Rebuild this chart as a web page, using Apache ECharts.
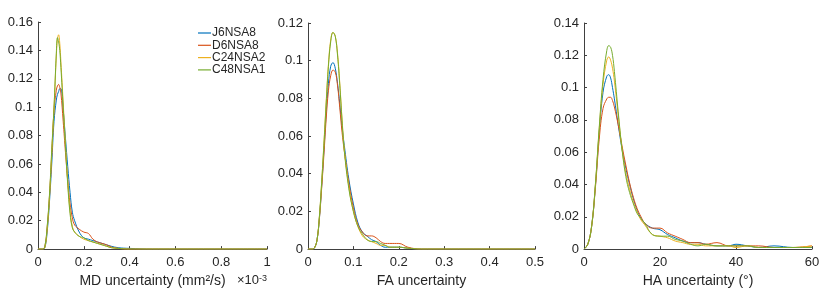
<!DOCTYPE html>
<html>
<head>
<meta charset="utf-8">
<script src="https://cdn.jsdelivr.net/npm/echarts@6/dist/echarts.min.js"></script>
<style>
  html, body { margin: 0; padding: 0; background: #fff; }
  #chart { width: 840px; height: 293px; }
</style>
</head>
<body>
<div id="chart"></div>
<script>
const seriesNames = ['J6NSA8', 'D6NSA8', 'C24NSA2', 'C48NSA1']
const colors = ['#0072BD', '#D95319', '#EDB120', '#77AC30']

// MD uncertainty (x10^-3 mm2/s)
const mdX = [0, 0.02, 0.03, 0.04, 0.05, 0.06, 0.07, 0.08, 0.085, 0.09, 0.095, 0.1, 0.11, 0.12, 0.13, 0.14, 0.15, 0.16, 0.18, 0.2, 0.22, 0.24, 0.26, 0.28, 0.3, 0.32, 0.35, 0.4, 0.5, 0.6, 0.8, 1.0]
const mdJ6 = [0, 0, 0.001, 0.012, 0.033, 0.06, 0.09, 0.105, 0.109, 0.111, 0.113, 0.113, 0.098, 0.078, 0.058, 0.04, 0.026, 0.02, 0.012, 0.008, 0.007, 0.006, 0.005, 0.004, 0.003, 0.002, 0.001, 0.0005, 0, 0, 0, 0]
const mdD6 = [0, 0, 0.002, 0.015, 0.037, 0.066, 0.098, 0.112, 0.115, 0.116, 0.114, 0.11, 0.09, 0.068, 0.048, 0.032, 0.022, 0.017, 0.014, 0.012, 0.011, 0.007, 0.005, 0.004, 0.003, 0.0015, 0.0005, 0, 0, 0, 0, 0]
const mdC24 = [0, 0, 0.001, 0.014, 0.036, 0.068, 0.1, 0.136, 0.148, 0.151, 0.145, 0.132, 0.103, 0.074, 0.047, 0.027, 0.016, 0.012, 0.009, 0.007, 0.006, 0.005, 0.004, 0.003, 0.002, 0.001, 0.0005, 0, 0, 0, 0, 0]
const mdC48 = [0, 0, 0.002, 0.016, 0.038, 0.07, 0.1, 0.138, 0.149, 0.146, 0.14, 0.128, 0.1, 0.072, 0.045, 0.025, 0.015, 0.012, 0.009, 0.008, 0.006, 0.005, 0.004, 0.003, 0.002, 0.001, 0.0005, 0, 0, 0, 0, 0]

// FA uncertainty
const faX = [0, 0.01, 0.015, 0.02, 0.025, 0.03, 0.035, 0.04, 0.045, 0.05, 0.055, 0.06, 0.065, 0.07, 0.075, 0.08, 0.09, 0.1, 0.11, 0.12, 0.13, 0.14, 0.15, 0.16, 0.17, 0.18, 0.2, 0.22, 0.25, 0.3, 0.5]
const faJ6 = [0, 0, 0.001, 0.005, 0.016, 0.033, 0.052, 0.072, 0.088, 0.097, 0.099, 0.096, 0.088, 0.077, 0.065, 0.055, 0.037, 0.024, 0.014, 0.009, 0.007, 0.005, 0.004, 0.002, 0.001, 0.001, 0.001, 0.0005, 0, 0, 0]
const faD6 = [0, 0, 0.001, 0.005, 0.016, 0.032, 0.05, 0.069, 0.084, 0.092, 0.095, 0.094, 0.087, 0.075, 0.062, 0.052, 0.035, 0.022, 0.013, 0.009, 0.007, 0.007, 0.006, 0.004, 0.003, 0.003, 0.003, 0.001, 0, 0, 0]
const faC24 = [0, 0, 0.001, 0.005, 0.017, 0.035, 0.056, 0.078, 0.098, 0.111, 0.115, 0.113, 0.104, 0.088, 0.069, 0.053, 0.033, 0.02, 0.012, 0.007, 0.005, 0.004, 0.003, 0.002, 0.002, 0.001, 0.001, 0.0005, 0, 0, 0]
const faC48 = [0, 0, 0.001, 0.005, 0.017, 0.035, 0.055, 0.077, 0.097, 0.11, 0.115, 0.113, 0.103, 0.087, 0.068, 0.052, 0.032, 0.02, 0.012, 0.008, 0.005, 0.004, 0.004, 0.003, 0.002, 0.001, 0.001, 0.0005, 0, 0, 0]

// HA uncertainty (degrees)
const haX = [0, 1, 2, 3, 4, 5, 6, 6.5, 7, 7.5, 8, 9, 10, 11, 12, 13, 14, 15, 16, 18, 20, 22, 24, 26, 28, 30, 32, 35, 38, 40, 43, 46, 50, 55, 60]
const haJ6 = [0, 0.003, 0.014, 0.039, 0.072, 0.097, 0.107, 0.108, 0.106, 0.1, 0.093, 0.077, 0.062, 0.05, 0.04, 0.031, 0.024, 0.019, 0.016, 0.013, 0.012, 0.009, 0.007, 0.005, 0.004, 0.004, 0.003, 0.002, 0.002, 0.003, 0.002, 0.001, 0.002, 0.001, 0.001]
const haD6 = [0, 0.003, 0.014, 0.038, 0.068, 0.087, 0.093, 0.094, 0.094, 0.092, 0.088, 0.077, 0.064, 0.052, 0.041, 0.032, 0.025, 0.02, 0.016, 0.013, 0.013, 0.01, 0.008, 0.006, 0.004, 0.004, 0.003, 0.004, 0.002, 0.002, 0.002, 0.002, 0.001, 0.001, 0.002]
const haC24 = [0, 0.003, 0.014, 0.04, 0.074, 0.102, 0.117, 0.119, 0.117, 0.112, 0.104, 0.083, 0.062, 0.047, 0.037, 0.029, 0.023, 0.018, 0.015, 0.009, 0.008, 0.007, 0.005, 0.004, 0.003, 0.003, 0.002, 0.002, 0.002, 0.001, 0.002, 0.001, 0.001, 0.001, 0.002]
const haC48 = [0, 0.003, 0.014, 0.04, 0.075, 0.105, 0.123, 0.126, 0.125, 0.12, 0.11, 0.085, 0.062, 0.045, 0.035, 0.028, 0.022, 0.019, 0.016, 0.009, 0.008, 0.008, 0.006, 0.005, 0.003, 0.002, 0.003, 0.002, 0.002, 0.002, 0.002, 0.001, 0.001, 0.001, 0.001]

const panels = [
  { x: mdX, ys: [mdJ6, mdD6, mdC24, mdC48] },
  { x: faX, ys: [faJ6, faD6, faC24, faC48] },
  { x: haX, ys: [haJ6, haD6, haC24, haC48] }
]

const font = '"Liberation Sans", Arial, Helvetica, sans-serif'
const axisColor = '#404040'
const textColor = '#262626'

const chart = echarts.init(document.getElementById('chart'))

const xAxisBase = {
  type: 'value',
  axisLine: { show: true, onZero: false, lineStyle: { color: axisColor, width: 1 } },
  axisTick: { show: true, inside: true, length: 3, lineStyle: { color: axisColor } },
  axisLabel: { color: textColor, fontSize: 13, fontFamily: font, margin: 7 },
  splitLine: { show: false },
  nameLocation: 'middle',
  nameTextStyle: { color: textColor, fontSize: 14, fontFamily: font }
}
const yAxisBase = {
  type: 'value',
  axisLine: { show: true, lineStyle: { color: axisColor, width: 1 } },
  axisTick: { show: true, inside: true, length: 3, lineStyle: { color: axisColor } },
  axisLabel: { color: textColor, fontSize: 13, fontFamily: font, margin: 5 },
  splitLine: { show: false }
}

const series = []
panels.forEach((p, pi) => {
  p.ys.forEach((ys, si) => {
    series.push({
      name: seriesNames[si],
      type: 'line',
      xAxisIndex: pi,
      yAxisIndex: pi,
      data: p.x.map((x, i) => [x, ys[i]]),
      smooth: 0.4,
      symbol: 'none',
      lineStyle: { width: 1, color: colors[si] },
      itemStyle: { color: colors[si] },
      z: 2 + si
    })
  })
})

const option = {
  backgroundColor: '#fff',
  animation: false,
  grid: [
    { left: 38, top: 22, width: 229, height: 231 },
    { left: 308, top: 23, width: 227, height: 234 },
    { left: 584, top: 23, width: 228, height: 234 }
  ],
  xAxis: [
    Object.assign({}, xAxisBase, { gridIndex: 0, min: 0, max: 1, interval: 0.2, name: 'MD uncertainty (mm²/s)', nameGap: 24 }),
    Object.assign({}, xAxisBase, { gridIndex: 1, min: 0, max: 0.5, interval: 0.1, name: 'FA uncertainty', nameGap: 21 }),
    Object.assign({}, xAxisBase, { gridIndex: 2, min: 0, max: 60, interval: 20, name: 'HA uncertainty (°)', nameGap: 21 })
  ],
  yAxis: [
    Object.assign({}, yAxisBase, { gridIndex: 0, min: 0, max: 0.16, interval: 0.02 }),
    Object.assign({}, yAxisBase, { gridIndex: 1, min: 0, max: 0.12, interval: 0.02 }),
    Object.assign({}, yAxisBase, { gridIndex: 2, min: 0, max: 0.14, interval: 0.02 })
  ],
  legend: {
    data: seriesNames,
    orient: 'vertical',
    left: 198,
    top: 27,
    padding: 0,
    icon: 'rect',
    itemWidth: 13,
    itemHeight: 1.2,
    itemGap: 0.3,
    textStyle: { color: textColor, fontSize: 12, lineHeight: 12, fontFamily: font, padding: [0, 0, 0, -4] }
  },
  graphic: [
    {
      type: 'text',
      left: 237,
      top: 274,
      style: {
        text: '{a|×10}{s|-3}',
        rich: {
          a: { fontSize: 13, fontFamily: font, fill: textColor, color: textColor, verticalAlign: 'bottom' },
          s: { fontSize: 9, fontFamily: font, fill: textColor, color: textColor, verticalAlign: 'top' }
        }
      }
    }
  ],
  series: series
}

chart.setOption(option)
</script>
</body>
</html>
